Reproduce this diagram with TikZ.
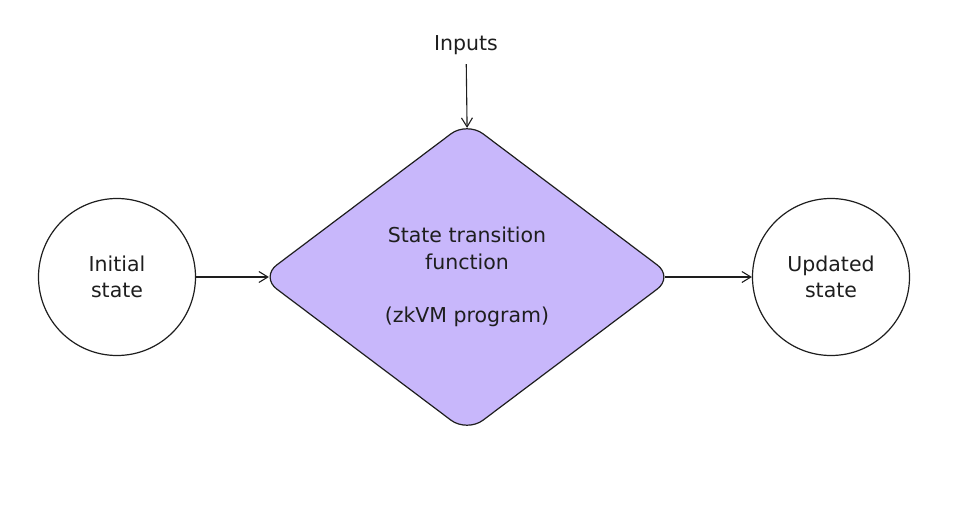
\documentclass[tikz,border=0pt]{standalone}
\usepackage{fontspec}
\setmainfont{DejaVu Sans}
\usetikzlibrary{shapes.geometric,arrows.meta}
\definecolor{ink}{HTML}{1E1E1E}
\definecolor{violetfill}{RGB}{200,183,251}
\begin{document}
\begin{tikzpicture}[x=1pt,y=-1pt,
  txt/.style={font=\fontsize{20.5}{26.5}\selectfont, text=ink, align=center},
  statecircle/.style={txt, circle, draw=ink, line width=1.2pt, minimum size=157pt, inner sep=0pt},
  decision/.style={txt, diamond, draw=ink, fill=violetfill, line width=1.2pt, minimum width=413pt, minimum height=311pt, rounded corners=20pt, inner sep=0pt},
  flow/.style={draw=ink, line width=1.1pt, -{Straight Barb[length=9pt,width=11pt]}}]
\useasboundingbox (0,0) rectangle (958,508);
\node[statecircle] (init) at (117,277) {Initial\\state};
\node[decision] (stf) at (467,277) {State transition\\function\\[26.5pt](zkVM program)};
\node[statecircle] (upd) at (831,277) {Updated\\state};
\node[txt] (inp) at (466,45) {Inputs};
\draw[flow, shorten >=-9pt] (init) -- (stf.west);
\draw[flow, shorten <=-9pt] (stf.east) -- (upd);
\draw[flow, shorten <=6pt, shorten >=-7pt] (inp) -- (stf.north);
\end{tikzpicture}
\end{document}
